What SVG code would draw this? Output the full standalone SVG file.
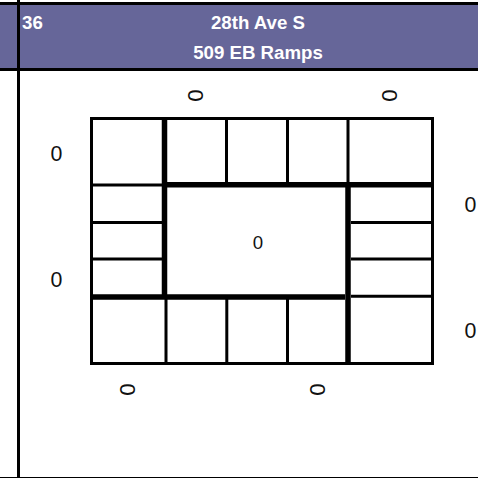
<svg xmlns="http://www.w3.org/2000/svg" width="478" height="478" viewBox="0 0 478 478">
<style>
.h{font-family:"Liberation Sans",Arial,sans-serif;font-weight:bold;font-size:18.670px;fill:#fff}
.n{font-family:"Liberation Sans",Arial,sans-serif;font-size:21.330px;fill:#111}
.c{font-size:18.670px}
.r{font-size:22.500px}
.g{stroke:#000;fill:none}
</style>
<rect width="478" height="478" fill="#fff"/>
<g id="header">
<rect x="0" y="5" width="478" height="63" fill="#666699"/>
<path class="g" stroke-width="3" d="M0 3.500H478M0 69.500H478M18.500 0V478"/>
<path class="g" stroke-width="1" d="M0 477.500H478"/>
<text class="h" x="22" y="29">36</text>
<text class="h" x="258" y="29" text-anchor="middle">28th Ave S</text>
<text class="h" x="258" y="59" text-anchor="middle">509 EB Ramps</text>
</g>
<g id="grid">
<path class="g" stroke-width="3" d="M91.500 118.500H432.500V363.500H91.500Z"/>
<path class="g" stroke-width="3" d="M226.500 120V182M287.500 120V182M348 120V182M166 297V362M226.800 297V362M287.500 297V362"/>
<path class="g" stroke-width="3" d="M93 185H162M93 222.500H162M93 259H162M351 222.500H431M351 259H431M351 296.300H431"/>
<path class="g" stroke-width="5.500" d="M164.500 120V297M348 185V362M164 184.700H431M93 297H345"/>
</g>
<g id="labels">
<text class="n" x="56.500" y="161" text-anchor="middle">0</text>
<text class="n" x="56.500" y="287" text-anchor="middle">0</text>
<text class="n" x="470.500" y="212" text-anchor="middle">0</text>
<text class="n" x="470.500" y="338" text-anchor="middle">0</text>
<text class="n c" x="258" y="249" text-anchor="middle">0</text>
<text class="n r" transform="translate(195.500 95.500) rotate(90)" text-anchor="middle" dy="8">0</text>
<text class="n r" transform="translate(389.500 95.500) rotate(90)" text-anchor="middle" dy="8">0</text>
<text class="n r" transform="translate(127.500 389.500) rotate(90)" text-anchor="middle" dy="8">0</text>
<text class="n r" transform="translate(317.500 389.500) rotate(90)" text-anchor="middle" dy="8">0</text>
</g>
</svg>
